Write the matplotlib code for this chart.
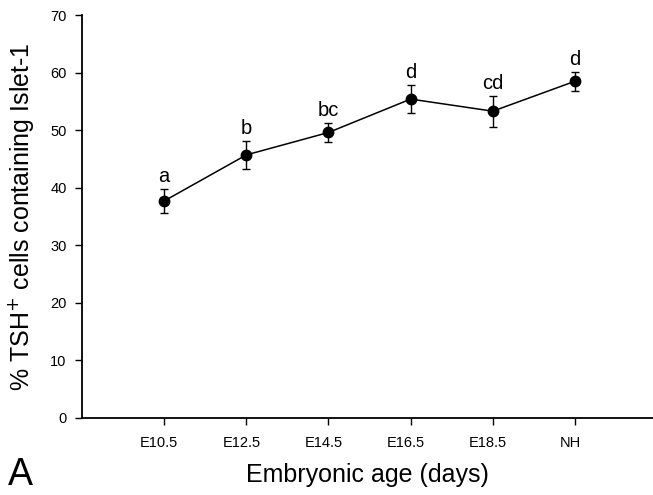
import numpy as np
import matplotlib
matplotlib.use("Agg")
import matplotlib.pyplot as plt
import matplotlib.transforms as mtransforms

plt.rcParams['font.family'] = ['Liberation Sans', 'DejaVu Sans']

ages = ['E10.5', 'E12.5', 'E14.5', 'E16.5', 'E18.5', 'NH']
means = [37.7, 45.7, 49.6, 55.4, 53.3, 58.5]
errs = [2.05, 2.5, 1.7, 2.45, 2.7, 1.65]
letters = ['a', 'b', 'bc', 'd', 'cd', 'd']

fig = plt.figure(figsize=(6.53, 4.95), dpi=100)
ax = fig.add_axes([0.1256, 0.1556, 0.8744, 0.814])

x = np.arange(1, len(ages) + 1)
ax.errorbar(x, means, yerr=errs, fmt='-o', color='black', lw=1.1,
            ms=7.5, elinewidth=1.0, capsize=3, capthick=1.0)

for xi, m, e, lab in zip(x, means, errs, letters):
    ax.annotate(lab, (xi, m + e), xytext=(0, 2), textcoords='offset points',
                ha='center', va='bottom', fontsize=14.5)

ax.set_xlim(0, 6.95)
ax.set_ylim(0, 70)
ax.set_yticks(range(0, 71, 10))
ax.set_xticks(x)
ax.set_xticklabels(ages)

for s in ['top', 'right']:
    ax.spines[s].set_visible(False)
for s in ['left', 'bottom']:
    ax.spines[s].set_linewidth(1.3)

ax.tick_params(axis='both', direction='out', length=5, width=1.0, labelsize=10.5)
ax.tick_params(axis='y', pad=6)
ax.tick_params(axis='x', pad=8)

# labels sit a bit left of their ticks in the original
shift = mtransforms.ScaledTranslation(-5 / 100, 0, fig.dpi_scale_trans)
for t in ax.get_xticklabels():
    t.set_transform(t.get_transform() + shift)

ax.set_xlabel('Embryonic age (days)', fontsize=18, labelpad=9)
ax.set_ylabel('% TSH$^{+}$ cells containing Islet-1', fontsize=18, labelpad=10)

fig.text(0.012, 0.004, 'A', fontsize=27, ha='left', va='bottom')

fig.savefig('out.png', dpi=100)
